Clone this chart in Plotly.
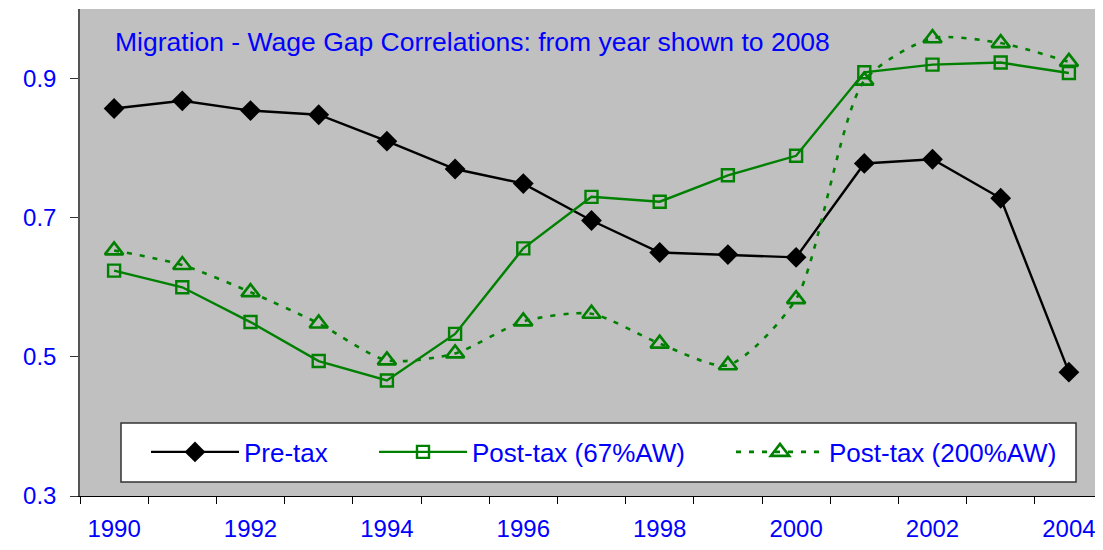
import plotly.graph_objects as go

years = list(range(1990, 2005))
tick_years = years[::2]
pre_tax = [0.857, 0.868, 0.854, 0.848, 0.810, 0.770, 0.749, 0.696, 0.650, 0.647, 0.643, 0.778, 0.784, 0.728, 0.478]
post_tax_67 = [0.624, 0.600, 0.550, 0.494, 0.466, 0.533, 0.656, 0.730, 0.723, 0.761, 0.789, 0.909, 0.920, 0.923, 0.908]
post_tax_200 = [0.653, 0.632, 0.593, 0.548, 0.495, 0.505, 0.551, 0.562, 0.519, 0.488, 0.583, 0.897, 0.958, 0.951, 0.924]
title_text = "Migration - Wage Gap Correlations: from year shown to 2008"

GREEN = "#008000"
BLUE = "#0000FF"
FONT = "Liberation Sans, Arial, sans-serif"

fig = go.Figure()
fig.add_trace(go.Scatter(x=years, y=pre_tax, name="Pre-tax", mode="lines+markers",
                         line=dict(color="black", width=2.4),
                         marker=dict(symbol="diamond", size=16, color="black"),
                         legend="legend", showlegend=True))
fig.add_trace(go.Scatter(x=years, y=post_tax_67, name="Post-tax (67%AW)", mode="lines+markers",
                         line=dict(color=GREEN, width=2.4),
                         marker=dict(symbol="square-open", size=12, color=GREEN, line=dict(width=2.4, color=GREEN)),
                         legend="legend2", showlegend=True))
fig.add_trace(go.Scatter(x=years, y=post_tax_200, name="Post-tax (200%AW)", mode="lines+markers",
                         line=dict(color=GREEN, width=2.6, dash="5px,8px", shape="spline", smoothing=0.7),
                         marker=dict(symbol="triangle-up-open", size=16, color=GREEN, line=dict(width=2.6, color=GREEN)),
                         legend="legend3", showlegend=True))

# page body has an 8px margin; figure is sized/offset so the plot area sits at x 80..1103, y 9..496
OFF = 8
W, H = 1103 - OFF, 550 - OFF
L, R, T, B = 80 - OFF, 0, 9 - OFF, 54
pw, ph = W - L - R, H - T - B

def px(xp):
    return (xp - OFF - L) / pw

def py(yp):
    return (H + OFF - B - yp) / ph

leg_common = dict(orientation="h", bgcolor="rgba(0,0,0,0)", borderwidth=0,
                  font=dict(family=FONT, size=26, color=BLUE), itemwidth=88,
                  yanchor="middle", y=py(452), xanchor="left", itemclick=False)

fig.update_layout(
    width=W, height=H,
    showlegend=True,
    margin=dict(l=L, r=R, t=T, b=B, autoexpand=False),
    plot_bgcolor="#C0C0C0", paper_bgcolor="white",
    font=dict(family=FONT, color=BLUE),
    legend=dict(leg_common, x=px(146)),
    legend2=dict(leg_common, x=px(374)),
    legend3=dict(leg_common, x=px(731)),
    xaxis=dict(range=[1989.5, 2004.5], tickvals=tick_years, ticktext=[str(y) for y in tick_years],
               ticks="outside", ticklen=7, tickcolor="rgba(0,0,0,0)", ticklabelstandoff=4,
               tickfont=dict(family=FONT, size=24, color=BLUE), automargin=False,
               showline=True, linecolor="black", linewidth=1, showgrid=False, zeroline=False,
               minor=dict(tickvals=[y - 0.5 for y in years] + [years[-1] + 0.5], ticks="outside",
                          ticklen=7, tickcolor="black", tickwidth=1, showgrid=False)),
    yaxis=dict(range=[0.3, 1.0], tickvals=[0.3, 0.5, 0.7, 0.9], ticktext=["0.3", "0.5", "0.7", "0.9"],
               ticks="outside", ticklen=8, tickcolor="#333333", ticklabelstandoff=9,
               tickfont=dict(family=FONT, size=24, color=BLUE), automargin=False,
               showline=True, linecolor="#555555", linewidth=1.5, showgrid=False, zeroline=False),
    shapes=[dict(type="rect", xref="paper", yref="paper", x0=px(121), x1=px(1076), y0=py(482), y1=py(423),
                 fillcolor="white", line=dict(color="#333333", width=1.5), layer="below")],
    annotations=[dict(text=title_text, xref="paper", yref="paper", x=px(113), y=py(42),
                      xanchor="left", yanchor="middle", showarrow=False,
                      font=dict(family=FONT, size=26.5, color=BLUE))],
)

fig.write_html("out.html")
